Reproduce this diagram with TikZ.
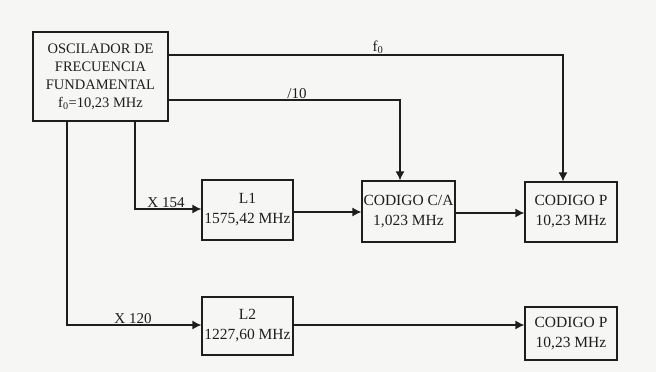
\documentclass[tikz,border=0pt]{standalone}
\usepackage{fontspec}
\setmainfont{Liberation Serif}
\usetikzlibrary{arrows.meta}
\definecolor{ink}{HTML}{1E1E1E}
\definecolor{paper}{HTML}{F6F6F4}
\begin{document}
\begin{tikzpicture}[x=1pt,y=-1pt,
  box/.style={draw=ink,line width=1.2pt,align=center,inner sep=0pt,
    font=\fontsize{15.5}{20}\selectfont,text=ink},
  conn/.style={draw=ink,line width=1.3pt},
  arr/.style={conn,-{Latex[length=9pt,width=9pt]}},
  lbl/.style={font=\fontsize{15}{16}\selectfont,text=ink,inner sep=0pt,anchor=base}]
\fill[paper] (0,0) rectangle (656,372);
\useasboundingbox (0,0) rectangle (656,372);
% boxes
\node[box,minimum width=135pt,minimum height=89pt,
  font=\fontsize{14.5}{18}\selectfont] (osc) at (100.5,76.5)
  {OSCILADOR DE\\FRECUENCIA\\FUNDAMENTAL\\f\textsubscript{0}=10,23 MHz};
\node[box,minimum width=91pt,minimum height=60pt] (l1) at (247.5,210)
  {L1\\1575,42 MHz};
\node[box,minimum width=91pt,minimum height=58pt] (l2) at (247.5,326)
  {L2\\1227,60 MHz};
\node[box,minimum width=93pt,minimum height=61pt] (ca) at (408.5,211.5)
  {CODIGO C/A\\1,023 MHz};
\node[box,minimum width=92pt,minimum height=60pt] (p1) at (571,212)
  {CODIGO P\\10,23 MHz};
\node[box,minimum width=92pt,minimum height=53pt] (p2) at (571,333.5)
  {CODIGO P\\10,23 MHz};
% helper heights
\coordinate (yf) at (0,55);
\coordinate (yd) at (0,100);
\coordinate (yx1) at (0,209);
\coordinate (yx2) at (0,325);
\coordinate (ya) at (0,212);
\coordinate (yb) at (0,213);
% connectors
\draw[arr] (osc.east |- yf) -| ([xshift=-8pt]p1.north);
\draw[arr] (osc.east |- yd) -| ([xshift=-8.5pt]ca.north);
\draw[arr] ([xshift=34.5pt]osc.south) |- (l1.west |- yx1);
\draw[arr] ([xshift=-33.5pt]osc.south) |- (l2.west |- yx2);
\draw[arr] (l1.east |- ya) -- (ca.west |- ya);
\draw[arr] (ca.east |- yb) -- (p1.west |- yb);
\draw[arr] (l2.east |- yx2) -- (p2.west |- yx2);
% labels
\node[lbl] (lf) at (378,51) {f\textsubscript{0}};
\node[lbl] (ld) at (297,98) {/10};
\node[lbl] (lx1) at (166,207) {X 154};
\node[lbl] (lx2) at (133,323) {X 120};
\end{tikzpicture}
\end{document}
